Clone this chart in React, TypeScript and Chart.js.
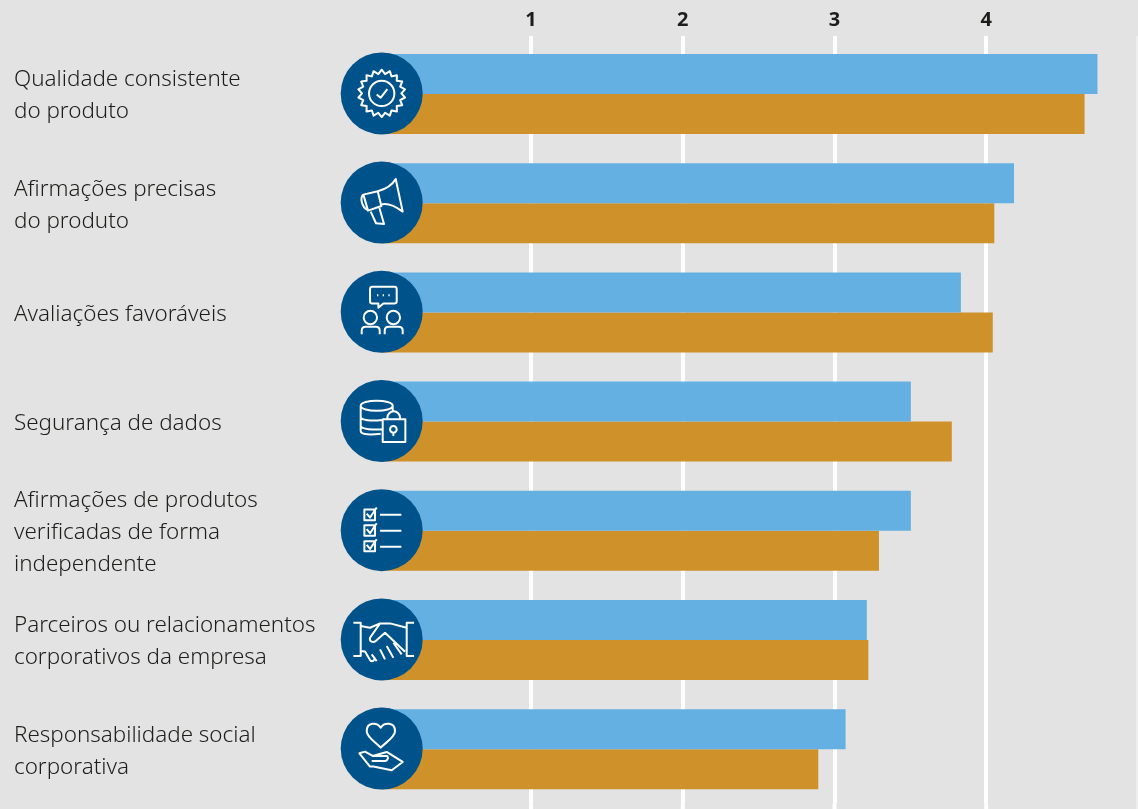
import React, { useEffect, useRef } from "react";
import { Chart, registerables } from "chart.js";

Chart.register(...registerables);

const categories: string[][] = [
  ["Qualidade consistente", "do produto"],
  ["Afirmações precisas", "do produto"],
  ["Avaliações favoráveis"],
  ["Segurança de dados"],
  ["Afirmações de produtos", "verificadas de forma", "independente"],
  ["Parceiros ou relacionamentos", "corporativos da empresa"],
  ["Responsabilidade social", "corporativa"],
];
const blueValues = [4.733, 4.183, 3.833, 3.503, 3.503, 3.213, 3.073];
const orangeValues = [4.648, 4.053, 4.043, 3.773, 3.293, 3.223, 2.893];
const shownTicks = [1, 2, 3, 4];

const BG = "#e3e3e3";
const BLUE = "#65b0e3";
const ORANGE = "#cf922b";
const NAVY = "#00528a";
const INK = "#1d1d1b";
const EDGE_LINE = "#eeeeee";
const LABEL_FONT = "Noto Sans";

function burst(points: number, outer: number, inner: number): string {
  let d = "";
  for (let i = 0; i < points * 2; i++) {
    const r = i % 2 ? inner : outer;
    const a = (Math.PI * i) / points - Math.PI / 2;
    d += `${i ? "L" : "M"}${(r * Math.cos(a)).toFixed(1)},${(r * Math.sin(a)).toFixed(1)} `;
  }
  return d + "Z";
}
const circle = (x: number, y: number, r: number) =>
  `M${x + r},${y} A${r},${r} 0 1 0 ${x - r},${y} A${r},${r} 0 1 0 ${x + r},${y} Z`;

// Pictograms, one per category, in thirds of a pixel around the disc centre.
const icons: string[] = [
  burst(18, 71, 59) + circle(0, 0, 38) + " M-15,3 L-3,13 L17,-13",
  "M-12,-34 C10,-40 30,-50 42,-71 L63,27 C40,10 15,0 -3,6 M-55,-24 L-12,-34 L-1,10 L-41,24 Z M-55,-24 C-66,-16 -60,14 -43,22 M-33,27 L-17,62 L7,64 L-7,16",
  "M-28,-75 L38,-75 Q45,-75 45,-68 L45,-32 Q45,-25 38,-25 L5,-25 L-10,-12 L-10,-25 L-28,-25 Q-35,-25 -35,-32 L-35,-68 Q-35,-75 -28,-75 Z" +
    circle(-34, 17, 20) +
    circle(35, 17, 20) +
    " M-60,67 L-60,57 Q-60,45 -48,45 L-18,45 Q-6,45 -6,57 L-6,67 M9,67 L9,57 Q9,45 21,45 L51,45 Q63,45 63,57 L63,67 M-14,-50 L-10,-50 M3,-50 L7,-50 M20,-50 L24,-50",
  "M-63,-46 C-63,-66 33,-66 33,-46 C33,-26 -63,-26 -63,-46 Z M-63,-46 L-63,30 C-63,42 -30,42 -3,38 M-63,-13 C-63,-2 -30,1 0,-3 M-63,15 C-60,25 -25,27 3,25 M33,-46 L33,-28 M3,-5 L71,-5 L71,63 L3,63 Z M17,-5 L17,-10 A19,19 0 0 1 55,-10 L55,-5" +
    circle(35, 25, 10) +
    " M35,35 L35,45",
  "M-52,-62 L-20,-62 L-20,-30 L-52,-30 Z M-45,-50 L-35,-38 L-15,-68 M-52,-15 L-20,-15 L-20,17 L-52,17 Z M-45,-3 L-35,9 L-15,-21 M-52,33 L-20,33 L-20,63 L-52,63 Z M-45,44 L-35,56 L-15,27 M-5,-46 L59,-46 M-5,2 L59,2 M-5,50 L59,50",
  "M-85,-50 L-63,-50 L-63,50 L-85,50 M97,-50 L75,-50 L75,50 L97,50 M-63,-40 L-35,-35 L-5,-48 L25,-48 L75,-35 M-5,-48 L-35,-5 C-38,8 -25,10 -18,5 L10,-20 L70,37 M-63,35 L-50,36 L-35,62 C-28,70 -20,62 -22,55 M-30,45 L-15,65 M-5,30 L10,60 M15,20 L35,55 M35,10 L60,45",
  "M-3,-63 C-15,-80 -45,-80 -45,-52 C-45,-35 -20,-20 -3,-3 C14,-20 40,-35 40,-52 C40,-80 8,-80 -3,-63 Z M-67,14 L-50,9 L-27,22 L15,10 L63,40 L30,65 L-25,54 L-35,54 Z M-27,22 L17,22 C22,30 15,37 10,37 L-30,37",
];

const discPlugin = {
  id: "categoryDiscs",
  afterDatasetsDraw(chart: Chart) {
    const { ctx } = chart;
    const yScale = chart.scales.y;
    const xScale = chart.scales.x;
    const cx = xScale.getPixelForValue(0) + 2.4;
    icons.forEach((d, i) => {
      const cy = yScale.getPixelForValue(i) - 0.6;
      ctx.save();
      ctx.fillStyle = NAVY;
      ctx.beginPath();
      ctx.arc(cx, cy, 41, 0, Math.PI * 2);
      ctx.fill();
      ctx.translate(cx, cy);
      ctx.scale(1 / 3, 1 / 3);
      ctx.strokeStyle = "#ffffff";
      ctx.lineWidth = 6;
      ctx.lineJoin = "round";
      ctx.stroke(new Path2D(d));
      ctx.restore();
    });
  },
};

// The value grid runs on past the plot area to the foot of the canvas.
const gridFootPlugin = {
  id: "gridFoot",
  beforeDatasetsDraw(chart: Chart) {
    const { ctx, chartArea, height } = chart;
    ctx.save();
    ctx.lineWidth = 4;
    [...shownTicks, 5].forEach((t) => {
      const x = chart.scales.x.getPixelForValue(t);
      ctx.strokeStyle = t === 5 ? EDGE_LINE : "#ffffff";
      ctx.beginPath();
      ctx.moveTo(x, chartArea.bottom);
      ctx.lineTo(x, height);
      ctx.stroke();
    });
    ctx.restore();
  },
};

export default function App() {
  const ref = useRef<HTMLCanvasElement>(null);
  useEffect(() => {
    if (!ref.current) return;
    const lineColor = (c: any) =>
      c.tick.value === 0 ? "transparent" : c.tick.value === 5 ? EDGE_LINE : "#ffffff";
    const chart = new Chart(ref.current, {
      type: "bar",
      data: {
        labels: categories,
        datasets: [
          { data: blueValues, backgroundColor: BLUE, barPercentage: 1, categoryPercentage: 0.7326 },
          { data: orangeValues, backgroundColor: ORANGE, barPercentage: 1, categoryPercentage: 0.7326 },
        ],
      },
      options: {
        indexAxis: "y",
        responsive: false,
        animation: false,
        layout: { padding: { left: 14, bottom: 5.2, right: 0, top: 0 } },
        plugins: { legend: { display: false }, tooltip: { enabled: false } },
        scales: {
          x: {
            position: "top",
            min: 0,
            max: 5,
            afterFit: (s: any) => {
              s.height = 39.4;
              s.paddingLeft = 0;
              s.paddingRight = 0;
            },
            border: { display: false },
            grid: { color: lineColor, tickColor: lineColor, lineWidth: 4, tickWidth: 4, tickLength: 3.4 } as any,
            ticks: {
              stepSize: 1,
              maxRotation: 0,
              padding: 4,
              color: INK,
              font: { family: LABEL_FONT, size: 20, weight: "bold" },
              callback: (v: any) => (shownTicks.includes(Number(v)) ? String(v) : ""),
            },
          },
          y: {
            afterFit: (s: any) => {
              s.width = 365.3;
              s.paddingTop = 0;
              s.paddingBottom = 0;
            },
            border: { display: false },
            grid: { display: false },
            ticks: {
              crossAlign: "far",
              autoSkip: false,
              padding: 0,
              labelOffset: 2,
              color: INK,
              font: { family: LABEL_FONT, size: 22.4, weight: 300, lineHeight: "32px" },
            },
          },
        },
      },
      plugins: [gridFootPlugin, discPlugin],
    } as any);
    return () => chart.destroy();
  }, []);
  return (
    <div style={{ position: "absolute", left: 0, top: 0, width: 1138, height: 809, background: BG, overflow: "hidden" }}>
      <canvas ref={ref} width={1138} height={809} style={{ display: "block" }} />
    </div>
  );
}
